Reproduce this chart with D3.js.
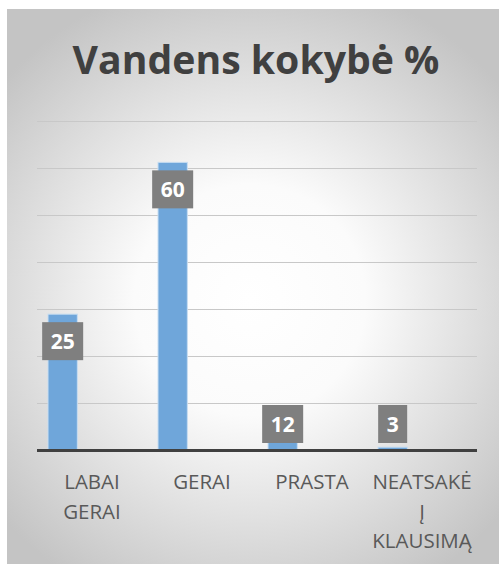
<!DOCTYPE html>
<html>
<head>
<meta charset="utf-8">
<script src="https://cdn.jsdelivr.net/npm/d3@7"></script>
<style>
  body { margin: 0; background: #fff; }
  svg { display: block; }
</style>
</head>
<body>
<svg id="chart" width="499" height="564"></svg>
<script>
// Categories (split on spaces for wrapping)
const categories = ["LABAI GERAI", "GERAI", "PRASTA", "NEATSAKĖ Į KLAUSIMĄ"];
// Printed data labels
const labelValues = [25, 60, 12, 3];
// Bar heights as drawn on the value axis (they do not follow the labels)
const barValues = [28.9, 61.2, 2, 0.6];
// Clustered chart: only the first series has bars
const series = ["S1", "S2", "S3"];
const yTicks = [0, 10, 20, 30, 40, 50, 60, 70];

const width = 499, height = 564;
const plot = { left: 37, right: 477, top: 121, bottom: 450 };

const svg = d3.select("#chart");

// Background gradient
const defs = svg.append("defs");
const grad = defs.append("radialGradient")
    .attr("id", "bg")
    .attr("gradientUnits", "userSpaceOnUse")
    .attr("cx", 250).attr("cy", 300).attr("r", 330);
grad.append("stop").attr("offset", "0%").attr("stop-color", "#ffffff");
grad.append("stop").attr("offset", "35%").attr("stop-color", "#fbfbfb");
grad.append("stop").attr("offset", "100%").attr("stop-color", "#c4c4c4");

svg.append("rect")
    .attr("x", 7).attr("y", 9)
    .attr("width", width - 7).attr("height", height - 9)
    .attr("fill", "url(#bg)");

// Title
const title = svg.append("text")
    .attr("x", 256).attr("y", 74)
    .attr("text-anchor", "middle")
    .attr("font-family", "Open Sans")
    .attr("font-weight", "bold")
    .attr("font-size", 42)
    .attr("fill", "#404040")
    .text("Vandens kokybė %");
// fit to the width of the reference title
const tw = title.node().getComputedTextLength();
title.attr("font-size", 42 * 367 / tw);

// Scales
const x0 = d3.scaleBand()
    .domain(categories)
    .range([plot.left, plot.right])
    .paddingInner(0.2)
    .paddingOuter(0.1);

const x1 = d3.scaleBand()
    .domain(series)
    .range([0, x0.bandwidth()]);

const y = d3.scaleLinear()
    .domain([0, 70])
    .range([plot.bottom, plot.top]);

// Gridlines
svg.append("g")
    .selectAll("line")
    .data(yTicks.slice(1))
    .join("line")
    .attr("x1", plot.left).attr("x2", plot.right)
    .attr("y1", d => y(d) + 0.5).attr("y2", d => y(d) + 0.5)
    .attr("stroke", "#c8c8c8")
    .attr("stroke-width", 1);

// Bars
const data = categories.map((c, i) => ({ cat: c, value: barValues[i], label: labelValues[i] }));

svg.append("g")
    .selectAll("rect")
    .data(data)
    .join("rect")
    .attr("x", d => x0(d.cat) + x1("S1"))
    .attr("y", d => y(d.value))
    .attr("width", x1.bandwidth())
    .attr("height", d => y(0) - y(d.value))
    .attr("fill", "#6fa6da")
    .attr("stroke", "#c7ddf1")
    .attr("stroke-width", 1);

// Axis line
svg.append("line")
    .attr("x1", plot.left).attr("x2", plot.right)
    .attr("y1", y(0) + 0.5).attr("y2", y(0) + 0.5)
    .attr("stroke", "#404040")
    .attr("stroke-width", 3);

// Data labels (inside end, kept above the axis for short bars)
const boxH = 38;
const labels = svg.append("g")
    .selectAll("g")
    .data(data)
    .join("g");

labels.each(function (d) {
    const g = d3.select(this);
    const cx = x0(d.cat) + x1("S1") + x1.bandwidth() / 2;
    const top = Math.min(y(d.value) + 8, y(0) - 7 - boxH);
    const rect = g.append("rect").attr("fill", "#7f7f7f");
    const t = g.append("text")
        .attr("x", cx).attr("y", top + boxH / 2 + 7.5)
        .attr("text-anchor", "middle")
        .attr("font-family", "Open Sans")
        .attr("font-weight", "bold")
        .attr("font-size", 21)
        .attr("fill", "#ffffff")
        .text(d.label);
    const w = t.node().getComputedTextLength() + 17;
    rect.attr("x", cx - w / 2).attr("y", top)
        .attr("width", w).attr("height", boxH);
});

// Category labels
const cats = svg.append("g")
    .selectAll("text")
    .data(categories)
    .join("text")
    .attr("y", 489)
    .attr("text-anchor", "middle")
    .attr("font-family", "Open Sans")
    .attr("font-size", 20.5)
    .attr("fill", "#595959");

cats.each(function (d) {
    const t = d3.select(this);
    const cx = x0(d) + x0.bandwidth() / 2;
    d.split(" ").forEach((w, i) => {
        t.append("tspan")
            .attr("x", cx)
            .attr("dy", i === 0 ? 0 : 29.5)
            .text(w);
    });
});
</script>
</body>
</html>
